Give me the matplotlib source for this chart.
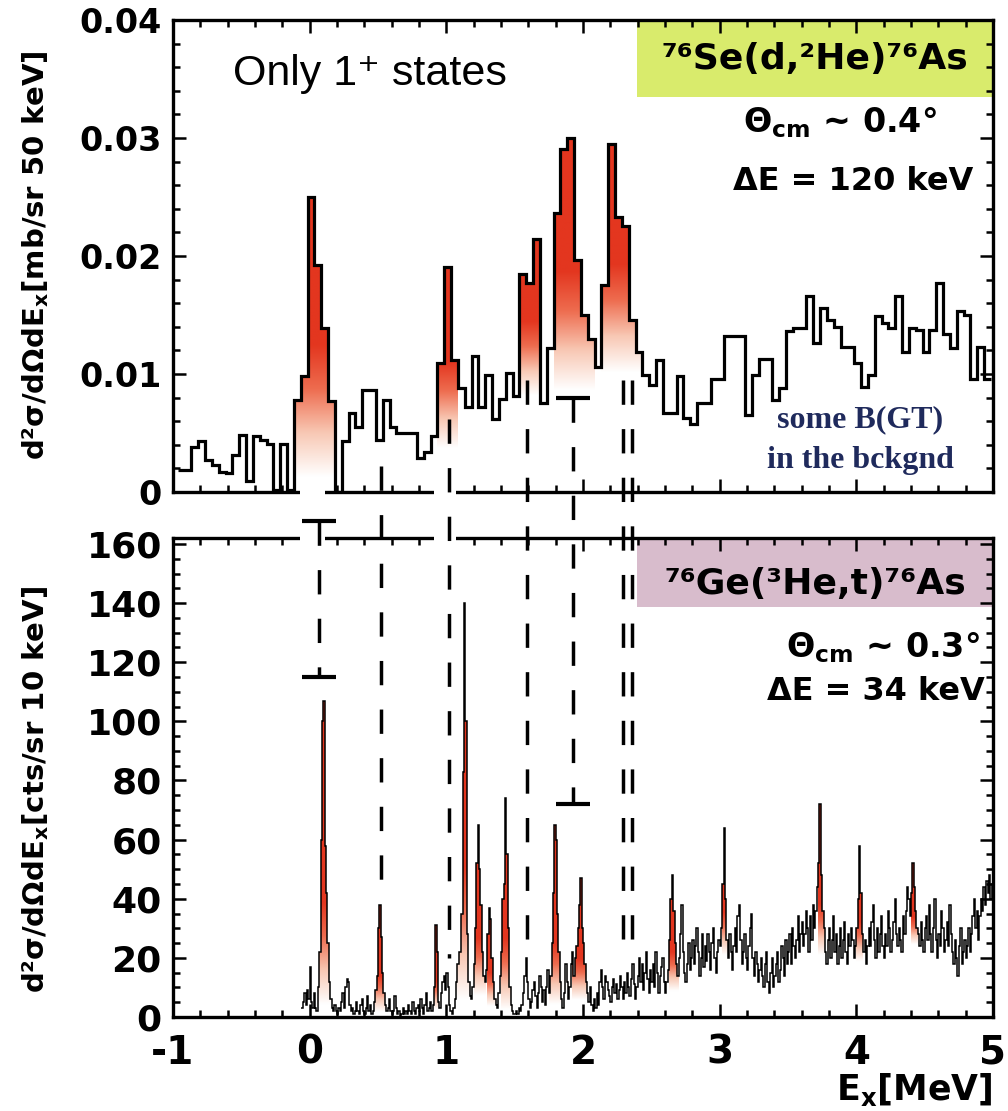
import numpy as np
import matplotlib
matplotlib.use("Agg")
import matplotlib.pyplot as plt
from matplotlib import colors, font_manager
from matplotlib.patches import Polygon, Rectangle
from matplotlib.lines import Line2D
from matplotlib.ticker import MultipleLocator
from matplotlib.transforms import blended_transform_factory


# 76Se(d,2He)76As spectrum, 50 keV bins, first bin edge at -0.965 MeV
top_start = -0.965
top_width = 0.05
top_vals = [
    0.0019, 0.0019, 0.0038, 0.0043, 0.0027, 0.0023, 0.0017, 0.0016, 0.0031, 0.0048,
    0.0009, 0.0047, 0.0044, 0.0041, 0.0002, 0.0041, 0.0002, 0.0078, 0.0098, 0.0250,
    0.0192, 0.0139, 0.0077, 0.0000, 0.0043, 0.0067, 0.0055, 0.0086, 0.0086, 0.0044,
    0.0078, 0.0055, 0.0050, 0.0050, 0.0050, 0.0029, 0.0034, 0.0047, 0.0109, 0.0191,
    0.0112, 0.0088, 0.0072, 0.0115, 0.0072, 0.0099, 0.0062, 0.0079, 0.0101, 0.0081,
    0.0185, 0.0177, 0.0214, 0.0075, 0.0122, 0.0236, 0.0291, 0.0300, 0.0197, 0.0150,
    0.0130, 0.0106, 0.0175, 0.0295, 0.0233, 0.0225, 0.0146, 0.0119, 0.0099, 0.0091,
    0.0112, 0.0067, 0.0067, 0.0098, 0.0063, 0.0058, 0.0075, 0.0075, 0.0096, 0.0096,
    0.0132, 0.0132, 0.0132, 0.0065, 0.0099, 0.0113, 0.0113, 0.0078, 0.0088, 0.0136,
    0.0139, 0.0139, 0.0166, 0.0126, 0.0156, 0.0146, 0.0140, 0.0123, 0.0123, 0.0109,
    0.0089, 0.0099, 0.0149, 0.0143, 0.0139, 0.0166, 0.0119, 0.0139, 0.0137, 0.0119,
    0.0137, 0.0177, 0.0134, 0.0122, 0.0153, 0.0150, 0.0096, 0.0123, 0.0096,
]

# 76Ge(3He,t)76As spectrum, 10 keV bins starting at -0.06 MeV
bot_start = -0.06
bot_width = 0.01
bot_vals = [
    3, 5, 8, 4, 9, 6,
    17, 5, 3, 8, 3, 2, 10, 22, 60, 100,
    107, 58, 42, 25, 12, 6, 3, 2, 4, 2,
    1, 3, 2, 5, 8, 3, 10, 13, 12, 4,
    2, 3, 1, 2, 5, 2, 1, 4, 6, 2,
    1, 3, 7, 2, 4, 1, 2, 5, 9, 14,
    30, 38, 27, 15, 8, 4, 2, 3, 6, 2,
    1, 2, 7, 3, 1, 2, 0, 1, 3, 1,
    2, 1, 4, 2, 1, 5, 2, 1, 3, 4,
    2, 6, 3, 1, 4, 8, 2, 3, 5, 2,
    4, 10, 31, 22, 5, 3, 8, 12, 14, 9,
    15, 10, 4, 2, 1, 3, 6, 12, 18, 22,
    22, 35, 83, 140, 100, 28, 12, 7, 6, 10,
    18, 30, 52, 65, 50, 38, 22, 14, 12, 16,
    28, 37, 33, 20, 12, 6, 4, 3, 8, 14,
    22, 40, 45, 74, 55, 30, 10, 4, 2, 1,
    1, 2, 1, 3, 2, 4, 8, 14, 20, 12,
    6, 3, 5, 9, 12, 7, 3, 8, 14, 10,
    5, 9, 4, 10, 16, 8, 14, 25, 42, 65,
    60, 35, 22, 12, 6, 3, 8, 18, 12, 6,
    10, 18, 22, 14, 20, 24, 30, 38, 47, 30,
    25, 18, 12, 8, 5, 10, 4, 2, 6, 3,
    8, 4, 12, 16, 10, 6, 14, 12, 9, 7,
    5, 10, 13, 8, 11, 6, 9, 14, 10, 6,
    12, 8, 15, 10, 7, 13, 18, 11, 6, 10,
    14, 20, 12, 18, 9, 15, 22, 13, 8, 16,
    12, 18, 10, 22, 15, 8, 14, 17, 20, 12,
    8, 12, 16, 26, 40, 48, 36, 25, 18, 14,
    20, 28, 38, 22, 15, 12, 18, 25, 16, 20,
    26, 18, 24, 30, 22, 14, 20, 28, 17, 24,
    19, 28, 22, 16, 25, 30, 20, 15, 22, 26,
    24, 30, 45, 64, 40, 26, 20, 28, 22, 16,
    24, 30, 22, 34, 38, 26, 18, 22, 28, 20,
    16, 24, 30, 35, 20, 14, 22, 18, 12, 16,
    20, 14, 10, 18, 22, 12, 8, 15, 20, 10,
    14, 18, 22, 12, 16, 24, 20, 14, 26, 18,
    22, 28, 18, 30, 24, 20, 26, 34, 22, 28,
    32, 24, 28, 36, 30, 22, 34, 26, 38, 30,
    36, 44, 52, 72, 48, 36, 30, 22, 18, 26,
    30, 20, 26, 34, 22, 28, 18, 24, 30, 20,
    26, 32, 22, 18, 28, 24, 30, 26, 20, 24,
    30, 40, 58, 42, 28, 22, 26, 18, 24, 30,
    24, 32, 38, 26, 20, 30, 22, 28, 34, 24,
    20, 28, 24, 36, 30, 22, 26, 32, 40, 28,
    24, 30, 26, 22, 34, 28, 36, 44, 40, 34,
    42, 52, 44, 36, 30, 28, 24, 32, 26, 22,
    30, 34, 26, 38, 28, 22, 30, 40, 26, 20,
    28, 24, 36, 30, 22, 26, 32, 24, 38, 28,
    22, 18, 26, 20, 14, 24, 30, 18, 22, 26,
    20, 24, 30, 22, 28, 34, 40, 30, 36, 26,
    34, 40, 36, 44, 38, 46, 42, 48, 40, 45,
]

# energy ranges of the shaded (1+) peaks
top_peaks = [(-0.10, 0.17), (0.95, 1.07), (1.55, 1.67), (1.80, 2.07), (2.15, 2.42)]
bot_peaks = [(0.06, 0.16), (0.48, 0.56), (0.91, 0.95), (1.08, 1.19), (1.20, 1.29),
             (1.30, 1.36), (1.40, 1.48), (1.75, 1.85), (1.92, 2.03), (2.63, 2.70),
             (3.02, 3.06), (3.72, 3.80), (4.00, 4.05), (4.40, 4.45)]

# dashed correspondence lines: x, upper end (top panel units), lower end (counts)
mark_x = [0.07, 0.52, 1.02, 1.59, 1.93, 2.29, 2.36]
mark_top = [-0.0025, 0.0022, 0.0062, 0.0095, 0.0080, 0.0095, 0.0095]
mark_bot = [115, 42, 20, 22, 72, 20, 20]
mark_bars = [0, 4]

top_edges = np.round(top_start + top_width * np.arange(len(top_vals) + 1), 4)
bot_edges = np.round(bot_start + bot_width * np.arange(len(bot_vals) + 1), 4)
top_vals = np.array(top_vals, dtype=float)
bot_vals = np.array(bot_vals, dtype=float)

# fonts
installed = {f.name for f in font_manager.fontManager.ttflist}
if "Liberation Sans Narrow" in installed:
    narrow, ylab_size, xt_size = "Liberation Sans Narrow", 27, 31
elif "DejaVu Sans Condensed" in installed:
    narrow, ylab_size, xt_size = "DejaVu Sans Condensed", 23, 28
else:
    narrow, ylab_size, xt_size = "DejaVu Sans", 21, 28

plt.rcParams["font.family"] = ["DejaVu Sans"]
plt.rcParams["mathtext.fontset"] = "dejavusans"

peak_cmap = colors.LinearSegmentedColormap.from_list(
    "peak", ["#ffffff", "#f8c8b4", "#ee6c4f", "#e3361f"])


def shade(ax, edges, vals, lo, hi, f_white, f_red):
    centers = (edges[:-1] + edges[1:]) / 2
    idx = np.where((centers >= lo) & (centers <= hi))[0]
    i0, i1 = idx[0], idx[-1] + 1
    verts = [(edges[i0], 0)]
    for i in range(i0, i1):
        verts += [(edges[i], vals[i]), (edges[i + 1], vals[i])]
    verts.append((edges[i1], 0))
    poly = Polygon(verts, closed=True, fc="none", ec="none")
    ax.add_patch(poly)
    top = vals[i0:i1].max()
    base = min(vals[max(i0 - 3, 0):i0].min(), vals[i1:i1 + 3].min())
    h = top - base
    yy = np.linspace(0, top, 400)
    t = np.clip((yy - base - f_white * h) / ((f_red - f_white) * h), 0, 1)
    im = ax.imshow(t[:, None], extent=(edges[i0], edges[i1], 0, top), origin="lower",
                   aspect="auto", cmap=peak_cmap, vmin=0, vmax=1, zorder=1,
                   interpolation="bilinear")
    im.set_clip_path(poly)


def style_axes(ax):
    for s in ax.spines.values():
        s.set_linewidth(2.4)
    ax.tick_params(which="both", direction="in", top=True, right=True, width=1.8)
    ax.tick_params(which="major", length=9.5)
    ax.tick_params(which="minor", length=5)
    ax.set_xticks(range(-1, 6))
    ax.xaxis.set_minor_locator(MultipleLocator(0.2))


fig = plt.figure(figsize=(10.08, 11.11), dpi=100)
ax1 = fig.add_axes([0.1716, 0.5572, 0.8135, 0.4248])
ax2 = fig.add_axes([0.1716, 0.0846, 0.8135, 0.4311])

# ---- top panel
for lo, hi in top_peaks:
    shade(ax1, top_edges, top_vals, lo, hi, 0.05, 0.5)
ax1.stairs(top_vals, top_edges, baseline=None, color="black", lw=2.3, zorder=3)
style_axes(ax1)
ax1.set_xlim(-1, 5)
ax1.set_ylim(0, 0.04)
ax1.set_yticks([0, 0.01, 0.02, 0.03, 0.04])
ax1.set_yticklabels(["0", "0.01", "0.02", "0.03", "0.04"])
ax1.yaxis.set_minor_locator(MultipleLocator(0.002))
ax1.tick_params(axis="x", labelbottom=False)
ax1.tick_params(axis="y", labelsize=24, pad=8)
for lab in ax1.get_yticklabels():
    lab.set_fontweight("bold")

ax1.add_patch(Rectangle((0.566, 0.837), 0.434, 0.163, transform=ax1.transAxes,
                        fc="#d9eb6c", ec="none", zorder=0.5))
ax1.text(0.783, 0.918, "⁷⁶Se(d,²He)⁷⁶As", transform=ax1.transAxes, ha="center",
         va="center", fontsize=26, fontweight="bold")
ax1.text(0.932, 0.763, r"$\mathbf{\Theta_{cm}}$ ~ 0.4°", transform=ax1.transAxes,
         ha="right", va="baseline", fontsize=24, fontweight="bold")
ax1.text(0.976, 0.640, "ΔE = 120 keV", transform=ax1.transAxes, ha="right",
         va="baseline", fontsize=23, fontweight="bold")
ax1.text(0.073, 0.862, "Only 1⁺ states", transform=ax1.transAxes, ha="left",
         va="baseline", fontsize=31, family=["Liberation Sans", "DejaVu Sans"])
ax1.text(0.838, 0.138, "some B(GT)", transform=ax1.transAxes, ha="center",
         va="baseline", fontsize=23, fontweight="bold", color="#1f2a5c",
         family=["Liberation Serif", "DejaVu Serif"])
ax1.text(0.838, 0.050, "in the bckgnd", transform=ax1.transAxes, ha="center",
         va="baseline", fontsize=23, fontweight="bold", color="#1f2a5c",
         family=["Liberation Serif", "DejaVu Serif"])

# ---- bottom panel
for lo, hi in bot_peaks:
    shade(ax2, bot_edges, bot_vals, lo, hi, 0.02, 0.35)
ax2.stairs(bot_vals, bot_edges, baseline=None, color="black", lw=1.1, zorder=3)
style_axes(ax2)
ax2.set_xlim(-1, 5)
ax2.set_ylim(0, 162)
ax2.set_yticks(range(0, 161, 20))
ax2.yaxis.set_minor_locator(MultipleLocator(5))
ax2.set_xticklabels(["-1", "0", "1", "2", "3", "4", "5"])
ax2.tick_params(axis="y", labelsize=26, pad=8)
ax2.tick_params(axis="x", labelsize=xt_size, pad=12)
for lab in ax2.get_yticklabels():
    lab.set_fontweight("bold")
for lab in ax2.get_xticklabels():
    lab.set_fontweight("bold")
    lab.set_family(narrow)
ax2.text(1.0, -0.112, r"E$_{\mathbf{x}}$[MeV]", transform=ax2.transAxes, ha="right",
         va="top", fontsize=xt_size - 3, fontweight="bold", family=narrow)

ax2.add_patch(Rectangle((0.566, 0.856), 0.434, 0.144, transform=ax2.transAxes,
                        fc="#d8bccc", ec="none", zorder=0.5))
ax2.text(0.783, 0.905, "⁷⁶Ge(³He,t)⁷⁶As", transform=ax2.transAxes, ha="center",
         va="center", fontsize=26, fontweight="bold")
ax2.text(0.984, 0.752, r"$\mathbf{\Theta_{cm}}$ ~ 0.3°", transform=ax2.transAxes,
         ha="right", va="baseline", fontsize=24, fontweight="bold")
ax2.text(0.990, 0.662, "ΔE = 34 keV", transform=ax2.transAxes, ha="right",
         va="baseline", fontsize=23, fontweight="bold")

# y labels
fig.text(0.035, 0.770, r"d²σ/dΩdE$_{\mathbf{x}}$[mb/sr 50 keV]", rotation=90,
         ha="center", va="center", fontsize=ylab_size, fontweight="bold", family=narrow)
fig.text(0.035, 0.289, r"d²σ/dΩdE$_{\mathbf{x}}$[cts/sr 10 keV]", rotation=90,
         ha="center", va="center", fontsize=ylab_size, fontweight="bold", family=narrow)

# white gaps in the facing spines where the dashed lines pass
for lo, hi in [(-0.07, 0.11), (0.91, 1.07)]:
    ax1.add_patch(Rectangle((lo, -0.03), hi - lo, 0.06, clip_on=False, fc="white",
                            ec="none", zorder=10,
                            transform=blended_transform_factory(ax1.transData, ax1.transAxes)))
    ax2.add_patch(Rectangle((lo, 0.97), hi - lo, 0.06, clip_on=False, fc="white",
                            ec="none", zorder=10,
                            transform=blended_transform_factory(ax2.transData, ax2.transAxes)))

inv = fig.transFigure.inverted()


def to_fig(ax, x, y):
    return inv.transform(ax.transData.transform((x, y)))


for i, (x, yt, yb) in enumerate(zip(mark_x, mark_top, mark_bot)):
    p_top = to_fig(ax1, x, yt)
    p_bot = to_fig(ax2, x, yb)
    fig.add_artist(Line2D([p_top[0], p_bot[0]], [p_top[1], p_bot[1]],
                          transform=fig.transFigure, color="black", lw=2.5,
                          ls=(0, (7, 7)), zorder=5))
    if i in mark_bars:
        for ax, y in [(ax1, yt), (ax2, yb)]:
            a = to_fig(ax, x - 0.125, y)
            b = to_fig(ax, x + 0.125, y)
            fig.add_artist(Line2D([a[0], b[0]], [a[1], b[1]], transform=fig.transFigure,
                                  color="black", lw=3, solid_capstyle="butt", zorder=5))

fig.savefig("out.png", dpi=100)
